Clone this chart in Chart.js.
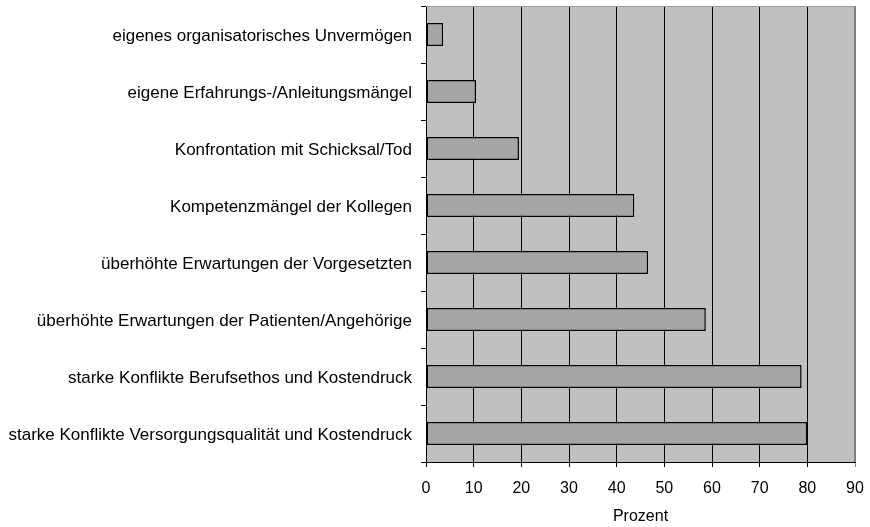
<!DOCTYPE html>
<html>
<head>
<meta charset="utf-8">
<script src="https://cdn.jsdelivr.net/npm/chart.js@4"></script>
<style>
  html, body { margin: 0; padding: 0; background: #fff; }
  #wrap { width: 870px; height: 527px; }
</style>
</head>
<body>
<div id="wrap"><canvas id="chart" width="870" height="527"></canvas></div>
<script>
const categories = [
  "eigenes organisatorisches Unvermögen",
  "eigene Erfahrungs-/Anleitungsmängel",
  "Konfrontation mit Schicksal/Tod",
  "Kompetenzmängel der Kollegen",
  "überhöhte Erwartungen der Vorgesetzten",
  "überhöhte Erwartungen der Patienten/Angehörige",
  "starke Konflikte Berufsethos und Kostendruck",
  "starke Konflikte Versorgungsqualität und Kostendruck"
];
const percent = [3.6, 10.5, 19.5, 43.7, 46.6, 58.7, 78.8, 80];
const axisMin = 0, axisMax = 90, axisStep = 10;
const axisTitle = "Prozent";

const FONT = "'Liberation Sans', Arial, sans-serif";

// grey plot background + thin top/right edges
const plotFrame = {
  id: "plotFrame",
  beforeDraw(chart) {
    const { ctx, chartArea: a } = chart;
    ctx.save();
    ctx.fillStyle = "#c0c0c0";
    ctx.fillRect(a.left, a.top, a.right - a.left, a.bottom - a.top);
    ctx.restore();
  },
  afterDraw(chart) {
    const { ctx, chartArea: a } = chart;
    ctx.save();
    ctx.strokeStyle = "#a0a0a0";
    ctx.lineWidth = 1;
    ctx.beginPath();
    ctx.moveTo(a.left, a.top + 0.5);
    ctx.lineTo(a.right, a.top + 0.5);
    ctx.stroke();
    ctx.strokeStyle = "#808080";
    ctx.beginPath();
    ctx.moveTo(a.right - 0.5, a.top);
    ctx.lineTo(a.right - 0.5, a.bottom);
    ctx.stroke();
    ctx.restore();
  }
};

new Chart(document.getElementById("chart"), {
  type: "bar",
  data: {
    labels: categories,
    datasets: [{
      data: percent,
      backgroundColor: "#a6a6a6",
      borderColor: "#000",
      borderWidth: 1.5,
      borderSkipped: false,
      categoryPercentage: 1,
      barPercentage: 0.4
    }]
  },
  options: {
    indexAxis: "y",
    responsive: false,
    animation: false,
    layout: { padding: { top: 6, right: 15, left: 0, bottom: 0 } },
    plugins: { legend: { display: false }, tooltip: { enabled: false } },
    scales: {
      x: {
        min: axisMin,
        max: axisMax,
        ticks: { stepSize: axisStep, color: "#000", font: { family: FONT, size: 16 }, padding: 12 },
        grid: {
          color: ctx => (ctx.tick && ctx.tick.value === axisMax ? "#808080" : "#000"),
          lineWidth: 1,
          tickLength: 5,
          drawOnChartArea: true
        },
        border: { display: true, color: "#000" },
        title: { display: true, text: axisTitle, color: "#000", font: { family: FONT, size: 16 }, padding: { top: 4, bottom: 1 } },
        afterFit(scale) {
          scale.height = 65;
          scale.paddingLeft = 0;
          scale.paddingRight = 0;
        }
      },
      y: {
        offset: true,
        ticks: { color: "#000", font: { family: FONT, size: 17 }, padding: 9, labelOffset: 2 },
        grid: { offset: true, drawOnChartArea: false, tickLength: 5, color: "#000" },
        border: { display: true, color: "#000" },
        afterFit(scale) {
          scale.width = 426;
          scale.paddingTop = 0;
          scale.paddingBottom = 0;
        }
      }
    }
  },
  plugins: [plotFrame]
});
</script>
</body>
</html>
